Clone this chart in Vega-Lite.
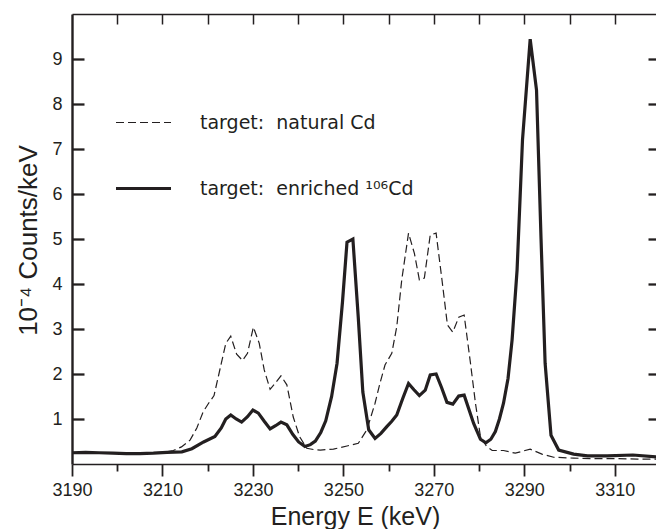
{
  "$schema": "https://vega.github.io/schema/vega-lite/v6.json",
  "width": 588,
  "height": 450,
  "autosize": "none",
  "padding": {"left": 72, "top": 14, "right": 0, "bottom": 65},
  "background": "white",
  "datasets": {
    "natural": [
      {"E": 3190, "c": 0.25}, {"E": 3193, "c": 0.25}, {"E": 3196, "c": 0.24}, {"E": 3199, "c": 0.24},
      {"E": 3202, "c": 0.23}, {"E": 3205, "c": 0.23}, {"E": 3208, "c": 0.25}, {"E": 3210.5, "c": 0.26},
      {"E": 3212.4, "c": 0.3}, {"E": 3214.2, "c": 0.38}, {"E": 3216.1, "c": 0.53}, {"E": 3217.6, "c": 0.8},
      {"E": 3219, "c": 1.16}, {"E": 3220.2, "c": 1.35}, {"E": 3221.4, "c": 1.52}, {"E": 3222.7, "c": 2.1},
      {"E": 3224, "c": 2.68}, {"E": 3225.1, "c": 2.84}, {"E": 3226.4, "c": 2.44}, {"E": 3227.7, "c": 2.3},
      {"E": 3228.8, "c": 2.46}, {"E": 3230.1, "c": 3.04}, {"E": 3231.4, "c": 2.68}, {"E": 3232.5, "c": 2.09},
      {"E": 3233.8, "c": 1.66}, {"E": 3234.9, "c": 1.79}, {"E": 3236.2, "c": 1.96}, {"E": 3237.5, "c": 1.76},
      {"E": 3238.9, "c": 1.05}, {"E": 3240.3, "c": 0.61}, {"E": 3241.9, "c": 0.35}, {"E": 3243.5, "c": 0.32},
      {"E": 3244.9, "c": 0.31}, {"E": 3247.8, "c": 0.33}, {"E": 3250.8, "c": 0.4}, {"E": 3253.3, "c": 0.46},
      {"E": 3255.2, "c": 0.76}, {"E": 3257, "c": 1.35}, {"E": 3258.1, "c": 1.8}, {"E": 3259.2, "c": 2.2},
      {"E": 3260.7, "c": 2.46}, {"E": 3261.8, "c": 3.05}, {"E": 3262.9, "c": 4.09}, {"E": 3264.4, "c": 5.13},
      {"E": 3265.7, "c": 4.68}, {"E": 3266.8, "c": 4.09}, {"E": 3267.9, "c": 4.13}, {"E": 3269.2, "c": 5.09},
      {"E": 3270.5, "c": 5.13}, {"E": 3271.8, "c": 4.09}, {"E": 3273, "c": 3.09}, {"E": 3274.2, "c": 2.93},
      {"E": 3275.5, "c": 3.26}, {"E": 3276.7, "c": 3.31}, {"E": 3278.1, "c": 2.24}, {"E": 3279.2, "c": 1.35},
      {"E": 3280.3, "c": 0.61}, {"E": 3281.6, "c": 0.4}, {"E": 3282.9, "c": 0.3}, {"E": 3285.4, "c": 0.3},
      {"E": 3288, "c": 0.24}, {"E": 3291.3, "c": 0.33}, {"E": 3293.9, "c": 0.22}, {"E": 3296.5, "c": 0.15},
      {"E": 3300.9, "c": 0.13}, {"E": 3305, "c": 0.12}, {"E": 3310, "c": 0.12}, {"E": 3315, "c": 0.11},
      {"E": 3320, "c": 0.11}
    ],
    "enriched": [
      {"E": 3190, "c": 0.25}, {"E": 3193, "c": 0.26}, {"E": 3196, "c": 0.25}, {"E": 3199, "c": 0.24},
      {"E": 3202, "c": 0.23}, {"E": 3205, "c": 0.23}, {"E": 3208, "c": 0.24}, {"E": 3211, "c": 0.26},
      {"E": 3214.3, "c": 0.27}, {"E": 3216.5, "c": 0.34}, {"E": 3219.1, "c": 0.49}, {"E": 3221.6, "c": 0.61},
      {"E": 3223, "c": 0.8}, {"E": 3224, "c": 1.0}, {"E": 3225.1, "c": 1.09}, {"E": 3226.3, "c": 1.0},
      {"E": 3227.5, "c": 0.93}, {"E": 3228.8, "c": 1.05}, {"E": 3230, "c": 1.2}, {"E": 3231.2, "c": 1.13},
      {"E": 3232.5, "c": 0.95}, {"E": 3233.8, "c": 0.78}, {"E": 3235, "c": 0.85}, {"E": 3236.2, "c": 0.93},
      {"E": 3237.5, "c": 0.87}, {"E": 3238.8, "c": 0.66}, {"E": 3240.1, "c": 0.49}, {"E": 3241.5, "c": 0.39},
      {"E": 3242.7, "c": 0.43}, {"E": 3243.8, "c": 0.51}, {"E": 3245, "c": 0.7}, {"E": 3246.1, "c": 0.96},
      {"E": 3247.4, "c": 1.5}, {"E": 3248.6, "c": 2.24}, {"E": 3249.8, "c": 3.6}, {"E": 3250.8, "c": 4.93},
      {"E": 3252.1, "c": 5.0}, {"E": 3253.3, "c": 3.24}, {"E": 3254.3, "c": 1.6}, {"E": 3255.6, "c": 0.76},
      {"E": 3257, "c": 0.57}, {"E": 3258.3, "c": 0.68}, {"E": 3259.6, "c": 0.83}, {"E": 3260.7, "c": 0.95},
      {"E": 3261.8, "c": 1.09}, {"E": 3263.1, "c": 1.45}, {"E": 3264.4, "c": 1.79}, {"E": 3265.6, "c": 1.65},
      {"E": 3266.8, "c": 1.52}, {"E": 3268.1, "c": 1.64}, {"E": 3269.2, "c": 1.98}, {"E": 3270.5, "c": 2.0},
      {"E": 3271.7, "c": 1.7}, {"E": 3272.9, "c": 1.37}, {"E": 3274.2, "c": 1.33}, {"E": 3275.5, "c": 1.51},
      {"E": 3276.7, "c": 1.53}, {"E": 3277.8, "c": 1.2}, {"E": 3278.8, "c": 0.9}, {"E": 3280.3, "c": 0.55},
      {"E": 3281.5, "c": 0.47}, {"E": 3282.6, "c": 0.55}, {"E": 3283.6, "c": 0.72}, {"E": 3284.5, "c": 1.0},
      {"E": 3285.4, "c": 1.35}, {"E": 3286.4, "c": 1.9}, {"E": 3287.3, "c": 2.76}, {"E": 3288.4, "c": 4.31},
      {"E": 3289.6, "c": 7.2}, {"E": 3291.3, "c": 9.44}, {"E": 3292.7, "c": 8.31}, {"E": 3293.7, "c": 5.0},
      {"E": 3294.6, "c": 2.24}, {"E": 3295.9, "c": 0.64}, {"E": 3297.6, "c": 0.31}, {"E": 3300.9, "c": 0.22},
      {"E": 3304, "c": 0.18}, {"E": 3308.3, "c": 0.18}, {"E": 3314, "c": 0.2}, {"E": 3320, "c": 0.15}
    ]
  },
  "layer": [
    {
      "data": {"name": "natural"},
      "transform": [{"calculate": "'natural'", "as": "series"}],
      "mark": {"type": "line", "color": "#231f20", "strokeWidth": 1.2, "strokeDash": [8, 4], "clip": true},
      "encoding": {
        "x": {
          "field": "E", "type": "quantitative",
          "scale": {"domain": [3190, 3320], "nice": false, "zero": false},
          "axis": {
            "orient": "bottom",
            "values": [3190, 3210, 3230, 3250, 3270, 3290, 3310],
            "format": "d",
            "ticks": false, "domain": false,
            "labelFontSize": 18, "labelDx": 11, "labelPadding": 17,
            "labelFlush": false, "labelOverlap": false,
            "title": "Energy E (keV)", "titleFontSize": 25, "titleFontWeight": "normal",
            "titleX": 283, "titleY": 60, "titleBaseline": "alphabetic", "titleAlign": "center"
          }
        },
        "y": {
          "field": "c", "type": "quantitative",
          "scale": {"domain": [0, 10], "nice": false, "zero": false},
          "axis": {
            "orient": "left",
            "values": [1, 2, 3, 4, 5, 6, 7, 8, 9],
            "ticks": false, "domain": false,
            "labelFontSize": 18, "labelPadding": 10,
            "title": "10\u207b\u2074 Counts/keV", "titleFontSize": 26, "titleFontWeight": "normal",
            "titleAngle": -90, "titleX": -36, "titleY": 226, "titleBaseline": "alphabetic", "titleAlign": "center"
          }
        },
        "strokeDash": {
          "field": "series", "type": "nominal",
          "scale": {"domain": ["natural", "enriched"], "range": [[8, 4], [1, 0]]},
          "legend": {
            "orient": "none", "legendX": 62, "legendY": 99, "title": null, "padding": 0,
            "symbolType": "stroke", "symbolSize": 3025, "symbolStrokeColor": "#231f20",
            "labelFontSize": 19, "labelFont": "DejaVu Sans", "labelColor": "#231f20",
            "labelOffset": 47, "rowPadding": 46, "labelLimit": 500,
            "labelExpr": "datum.value === 'natural' ? 'target:\u00a0 natural Cd' : 'target:\u00a0 enriched \u00b9\u2070\u2076Cd'",
            "encode": {
              "symbols": {
                "update": {
                  "strokeWidth": {"signal": "datum.value === 'enriched' ? 3.2 : 1.2"},
                  "strokeDash": {"signal": "datum.value === 'enriched' ? [1, 0] : [5, 3]"}
                }
              }
            }
          }
        }
      }
    },
    {
      "data": {"name": "enriched"},
      "mark": {"type": "line", "color": "#231f20", "strokeWidth": 3.2, "strokeJoin": "miter", "clip": true},
      "encoding": {
        "x": {"field": "E", "type": "quantitative", "axis": null},
        "y": {"field": "c", "type": "quantitative", "axis": null}
      }
    },
    {
      "data": {"name": "natural"},
      "mark": {"type": "point", "opacity": 0},
      "encoding": {
        "x": {
          "field": "E", "type": "quantitative",
          "axis": {
            "orient": "top",
            "values": [3200, 3210, 3220, 3230, 3240, 3250, 3260, 3270, 3280, 3290, 3300, 3310, 3320],
            "tickSize": -10, "tickWidth": 1.5, "labels": false, "domain": true, "domainWidth": 1.5, "title": null
          }
        },
        "y": {
          "field": "c", "type": "quantitative",
          "axis": {
            "orient": "right",
            "values": [1, 2, 3, 4, 5, 6, 7, 8, 9],
            "tickSize": -12, "tickWidth": 2.3, "labels": false, "domain": true, "domainWidth": 2, "title": null
          }
        }
      }
    },
    {
      "data": {"name": "natural"},
      "mark": {"type": "point", "opacity": 0},
      "encoding": {
        "x": {
          "field": "E", "type": "quantitative",
          "axis": {
            "orient": "bottom",
            "values": [3200, 3220, 3240, 3260, 3280, 3300, 3320],
            "tickSize": 7, "tickWidth": 1.8, "labels": false, "domain": true, "domainWidth": 1.5, "title": null
          }
        },
        "y": {
          "field": "c", "type": "quantitative",
          "axis": {
            "orient": "left",
            "values": [1, 2, 3, 4, 5, 6, 7, 8, 9],
            "tickSize": -12, "tickWidth": 2.3, "labels": false, "domain": true, "domainWidth": 2.4, "title": null
          }
        }
      }
    },
    {
      "data": {"name": "natural"},
      "mark": {"type": "point", "opacity": 0},
      "encoding": {
        "x": {
          "field": "E", "type": "quantitative",
          "axis": {
            "orient": "bottom",
            "values": [3190, 3210, 3230, 3250, 3270, 3290, 3310],
            "tickSize": 12, "tickWidth": 1.8, "labels": false, "domain": false, "title": null
          }
        },
        "y": {"field": "c", "type": "quantitative", "axis": null}
      }
    }
  ],
  "resolve": {"axis": {"x": "independent", "y": "independent"}},
  "config": {
    "view": {"stroke": null},
    "axis": {
      "grid": false,
      "domainColor": "#231f20", "tickColor": "#231f20",
      "labelColor": "#231f20", "titleColor": "#231f20",
      "labelFont": "Liberation Sans", "titleFont": "Liberation Sans"
    }
  }
}
